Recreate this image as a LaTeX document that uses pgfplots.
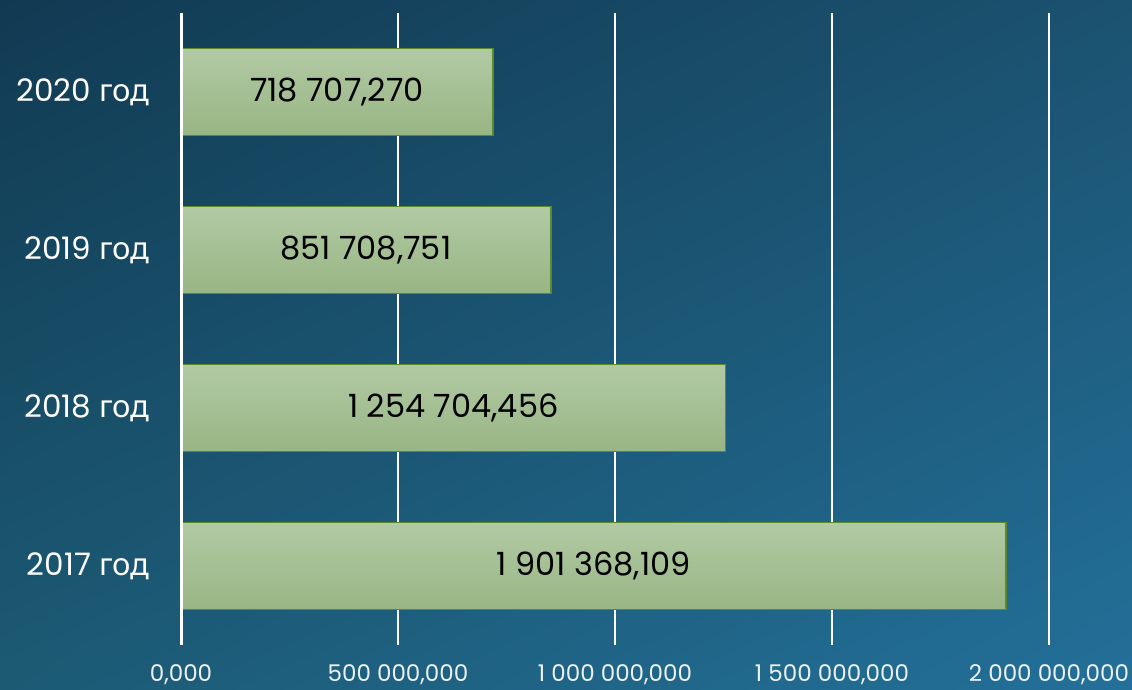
\documentclass[border=0pt]{standalone}
\usepackage{pgfplots}
\pgfplotsset{compat=1.18}
\usepackage{pgfplotstable}
\usetikzlibrary{shadings}
\usepackage{fontspec}
\setmainfont{Poppins}
\newfontfamily\cyr{Noto Sans}
\definecolor{bgTL}{HTML}{113A52}
\definecolor{bgTR}{HTML}{1B5270}
\definecolor{bgBL}{HTML}{1C5A74}
\definecolor{bgBR}{HTML}{23709A}
\definecolor{barTop}{HTML}{B2CAA4}
\definecolor{barBot}{HTML}{98B584}
\definecolor{barEdge}{HTML}{5A8A2C}
\definecolor{tickcol}{HTML}{EEF2F5}

\pgfplotstableread[col sep=semicolon]{
y;v;label
0;1901368109;1 901 368,109
1;1254704456;1 254 704,456
2;851708751;851 708,751
3;718707270;718 707,270
}\datatable

\tikzset{barsty/.style={xbar, bar width=87pt, bar shift=0pt, draw=barEdge, line width=1.8pt, top color=barTop, bottom color=barBot, mark=none}}

\begin{document}
\begin{tikzpicture}[x=1pt,y=1pt]
\path[use as bounding box] (0,0) rectangle (1132,690);
\clip (0,0) rectangle (1132,690);
\shade[upper left=bgTL, upper right=bgTR, lower left=bgBL, lower right=bgBR] (0,0) rectangle (1132,690);
\begin{axis}[
  at={(181pt,45pt)}, anchor=south west,
  scale only axis,
  width=868pt, height=632pt,
  xmin=0, xmax=2000000000,
  ymin=-0.5, ymax=3.5,
  xtick={0,500000000,1000000000,1500000000,2000000000},
  xticklabels={{0,000},{500 000,000},{1 000 000,000},{1 500 000,000},{2 000 000,000}},
  ytick={0,1,2,3},
  yticklabels={{2017 {\cyr год}},{2018 {\cyr год}},{2019 {\cyr год}},{2020 {\cyr год}}},
  scaled x ticks=false,
  axis line style={draw=none},
  major tick length=0pt,
  xmajorgrids,
  major grid style={draw=white, line width=1.8pt},
  xticklabel style={font=\fontsize{23}{26}\selectfont, text=tickcol, anchor=center, inner sep=0pt, yshift=-30pt},
  yticklabel style={font=\fontsize{31}{36}\selectfont, text=white, anchor=east, xshift=-28pt},
  clip=false,
]
\addplot[barsty] table[x=v, y=y, skip coords between index={1}{4}] {\datatable};
\addplot[barsty] table[x=v, y=y, skip coords between index={0}{1}, skip coords between index={2}{4}] {\datatable};
\addplot[barsty] table[x=v, y=y, skip coords between index={0}{2}, skip coords between index={3}{4}] {\datatable};
\addplot[barsty] table[x=v, y=y, skip coords between index={0}{3}] {\datatable};
\addplot[only marks, mark=none, draw=none, point meta=explicit symbolic,
  nodes near coords, nodes near coords align={center},
  every node near coord/.append style={anchor=center, text=black, font=\fontsize{32}{36}\selectfont}]
  table[x expr=\thisrow{v}/2, y=y, meta=label] {\datatable};
\draw[white, line width=3pt] (axis cs:0,-0.5) -- (axis cs:0,3.5);
\end{axis}
\end{tikzpicture}
\end{document}
